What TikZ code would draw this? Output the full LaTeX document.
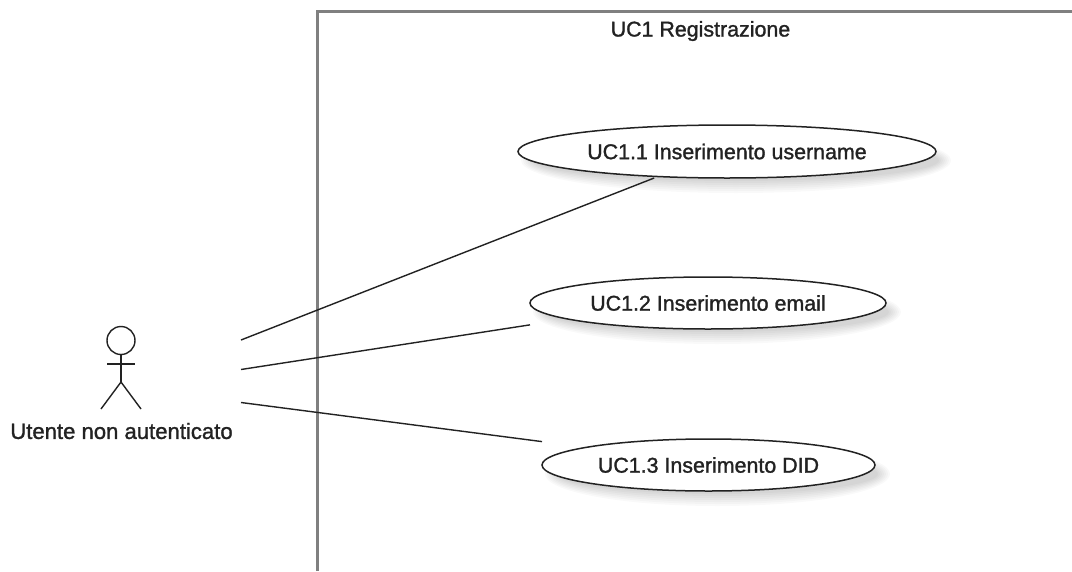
\documentclass[tikz,border=0pt]{standalone}
\usepackage{fontspec}
\setmainfont{Liberation Sans}
\newfontfamily\diagramfont[FakeBold=1.3]{Liberation Sans}
\usetikzlibrary{shapes.geometric}
\definecolor{ink}{HTML}{222222}
\definecolor{framegrey}{HTML}{808080}
\tikzset{
  usecase/.style={ellipse,draw=ink,line width=1.5pt,fill=white,inner sep=0pt,outer sep=0pt},
  hitbox/.style={rectangle,inner sep=0pt,outer sep=0pt,text=ink,font=\diagramfont\fontsize{21.4}{25}\selectfont},
  label/.style={text=ink,font=\diagramfont\fontsize{21.4}{25}\selectfont,inner sep=0pt},
  actorlabel/.style={label,font=\diagramfont\fontsize{22.1}{25}\selectfont},
  assoc/.style={draw=ink,line width=1.4pt},
  stick/.style={draw=ink,line width=1.4pt},
  frameline/.style={draw=framegrey,line width=2.6pt,line join=miter},
  softshadow/.style={fill=black,fill opacity=.022,draw=none}
}
\begin{document}
\begin{tikzpicture}[x=1pt,y=-1pt]
\useasboundingbox (0,0) rectangle (1072,571);
\fill[white] (0,0) rectangle (1072,571);
\coordinate (fbl) at (317.5,571);
\coordinate (ftl) at (317.5,11.5);
\coordinate (ftr) at (1072,11.5);
\draw[frameline] (fbl) -- (ftl) -- (ftr);
\node[label] (title) at (700.5,31) {UC1 Registrazione};
% soft shadows
\foreach \cx/\cy/\rx/\ry in {727/151.5/209/26.5,708/303/178/26,708.5/465/166.5/26}{
  \foreach \d in {-6,-4,...,6}{
    \fill[softshadow] (\cx+9,\cy+9) ellipse ({\rx+\d} and {\ry+\d});
  }
}
\node[usecase,minimum width=418pt,minimum height=53pt] (e1) at (727,151.5) {};
\node[usecase,minimum width=356pt,minimum height=52pt] (e2) at (708,303) {};
\node[usecase,minimum width=333pt,minimum height=52pt] (e3) at (708.5,465) {};
\node[hitbox,minimum width=418pt,minimum height=53pt] (u1) at (e1.center) {UC1.1 Inserimento username};
\node[hitbox,minimum width=356pt,minimum height=52pt] (u2) at (e2.center) {UC1.2 Inserimento email};
\node[hitbox,minimum width=333pt,minimum height=52pt] (u3) at (e3.center) {UC1.3 Inserimento DID};
% actor
\node[circle,stick,minimum size=28pt,inner sep=0pt] (head) at (121,340.5) {};
\coordinate (hip) at (121,382);
\coordinate (armL) at (107,364);
\coordinate (armR) at (135,364);
\coordinate (legL) at (101,409);
\coordinate (legR) at (141,409);
\draw[stick] (head.south) -- (hip);
\draw[stick] (armL) -- (armR);
\draw[stick] (legL) -- (hip) -- (legR);
\node[actorlabel] (actor) at (121.5,431) {Utente non autenticato};
\coordinate (a1) at (241,340);
\coordinate (a2) at (241,369.5);
\coordinate (a3) at (241,402.5);
\draw[assoc] (a1) -- (u1.200.6);
\draw[assoc] (a2) -- (u2.187.5);
\draw[assoc] (a3) -- (u3.172.8);
\end{tikzpicture}
\end{document}
